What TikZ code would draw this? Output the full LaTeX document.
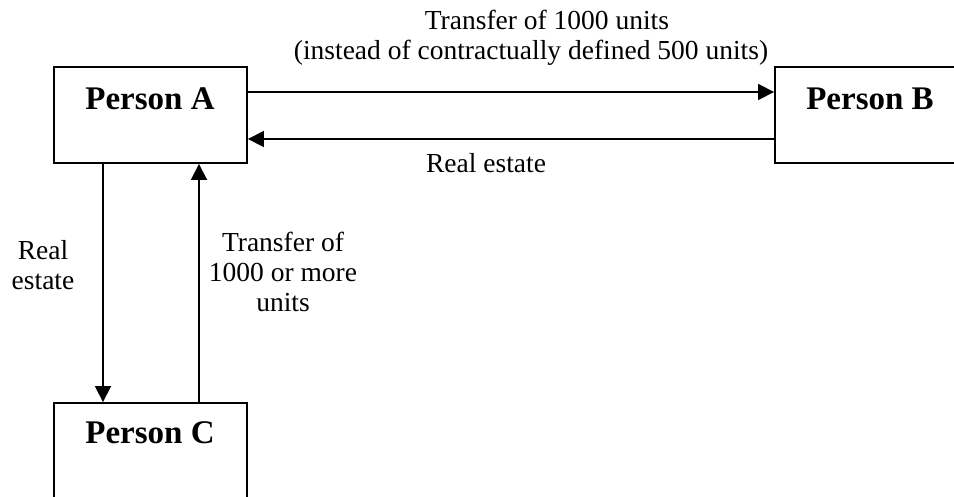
\documentclass[tikz,border=0pt]{standalone}
\usepackage{fontspec}
\setmainfont{Liberation Serif}
\usetikzlibrary{arrows.meta}
\begin{document}
\begin{tikzpicture}[x=1pt,y=-1pt,
  box/.style={draw,line width=1.9pt,minimum width=193pt,minimum height=96pt,inner sep=0pt},
  pname/.style={font=\fontsize{33}{36}\selectfont\bfseries,anchor=base,inner sep=0pt},
  lbl/.style={font=\fontsize{27.5}{30}\selectfont,anchor=base,align=center,inner sep=0pt},
  conn/.style={line width=1.8pt,-{Triangle[length=16pt,width=16pt]}}]
\useasboundingbox (0,0) rectangle (954,497);
\node[box] (A) at (150.5,115) {};
\node[box] (B) at (871.5,115) {};
\node[box] (C) at (150.5,451) {};
\node[pname] (At) at (150,110) {Person A};
\node[pname] (Bt) at (870,110) {Person B};
\node[pname] (Ct) at (150,443) {Person C};
\draw[conn] ([yshift=23pt]A.east) -- ([yshift=23pt]B.west);
\draw[conn] ([yshift=-24pt]B.west) -- ([yshift=-24pt]A.east);
\draw[conn] ([xshift=-47.5pt]A.south) -- ([xshift=-47.5pt]C.north);
\draw[conn] ([xshift=48.5pt]C.north) -- ([xshift=48.5pt]A.south);
\node[lbl] (top) at (531,60) {\hspace*{32pt}Transfer of 1000 units\\(instead of contractually defined 500 units)};
\node[lbl] (re1) at (486,173) {Real estate};
\node[lbl] (re2) at (43,290) {Real\\estate};
\node[lbl] (tr2) at (283,312) {Transfer of\\1000 or more\\units};
\end{tikzpicture}
\end{document}
